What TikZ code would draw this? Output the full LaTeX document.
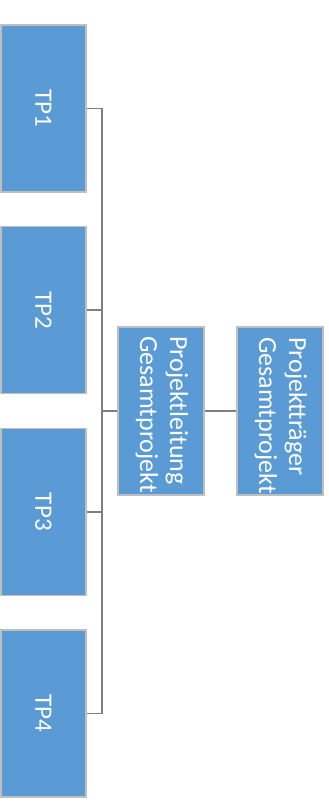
\documentclass[tikz,border=0pt]{standalone}
\usepackage{fontspec}
\setmainfont{Carlito}
\definecolor{boxfill}{HTML}{5B9BD5}
\definecolor{boxline}{HTML}{BFBFBF}
\definecolor{conn}{HTML}{7F7F7F}
\tikzset{
  tpbox/.style={rectangle, draw=boxline, fill=boxfill, line width=1.5pt,
    rotate=-90, minimum width=167pt, minimum height=85pt, inner sep=0pt,
    text=white, font=\fontsize{25}{30}\selectfont},
  pbox/.style={rectangle, draw=boxline, fill=boxfill, line width=1.5pt,
    minimum width=86pt, minimum height=168pt, inner sep=0pt},
  ptext/.style={rotate=-90, anchor=west, align=left, inner sep=0pt,
    text=white, font=\fontsize{26}{30}\selectfont},
  connector/.style={draw=conn, line width=1.5pt}
}
\begin{document}
\begin{tikzpicture}[x=1pt,y=-1pt]
\useasboundingbox (0,0) rectangle (329,807);
\node[tpbox] (tp1) at (43.5,108.5) {TP1};
\node[tpbox] (tp2) at (43.5,310.2) {TP2};
\node[tpbox] (tp3) at (43.5,511.8) {TP3};
\node[tpbox] (tp4) at (43.5,713.5) {TP4};
\node[pbox] (pl) at (161,411) {};
\node[pbox] (pt) at (280,411) {};
\begin{scope}
  \clip (pl.south west) rectangle (pl.north east);
  \node[ptext] (pltext) at (162,336) {Projektleitung\\Gesamtprojekt};
\end{scope}
\begin{scope}
  \clip (pt.south west) rectangle (pt.north east);
  \node[ptext] (pttext) at (281,337) {Projektträger\\Gesamtprojekt};
\end{scope}
\coordinate (bus) at (102,411);
\draw[connector] (tp1.north) -| (bus) |- (tp4.north);
\draw[connector] (tp2.north) -- (tp2.north -| bus);
\draw[connector] (tp3.north) -- (tp3.north -| bus);
\draw[connector] (bus) -- (pl.west);
\draw[connector] (pl.east) -- (pt.west);
\end{tikzpicture}
\end{document}
